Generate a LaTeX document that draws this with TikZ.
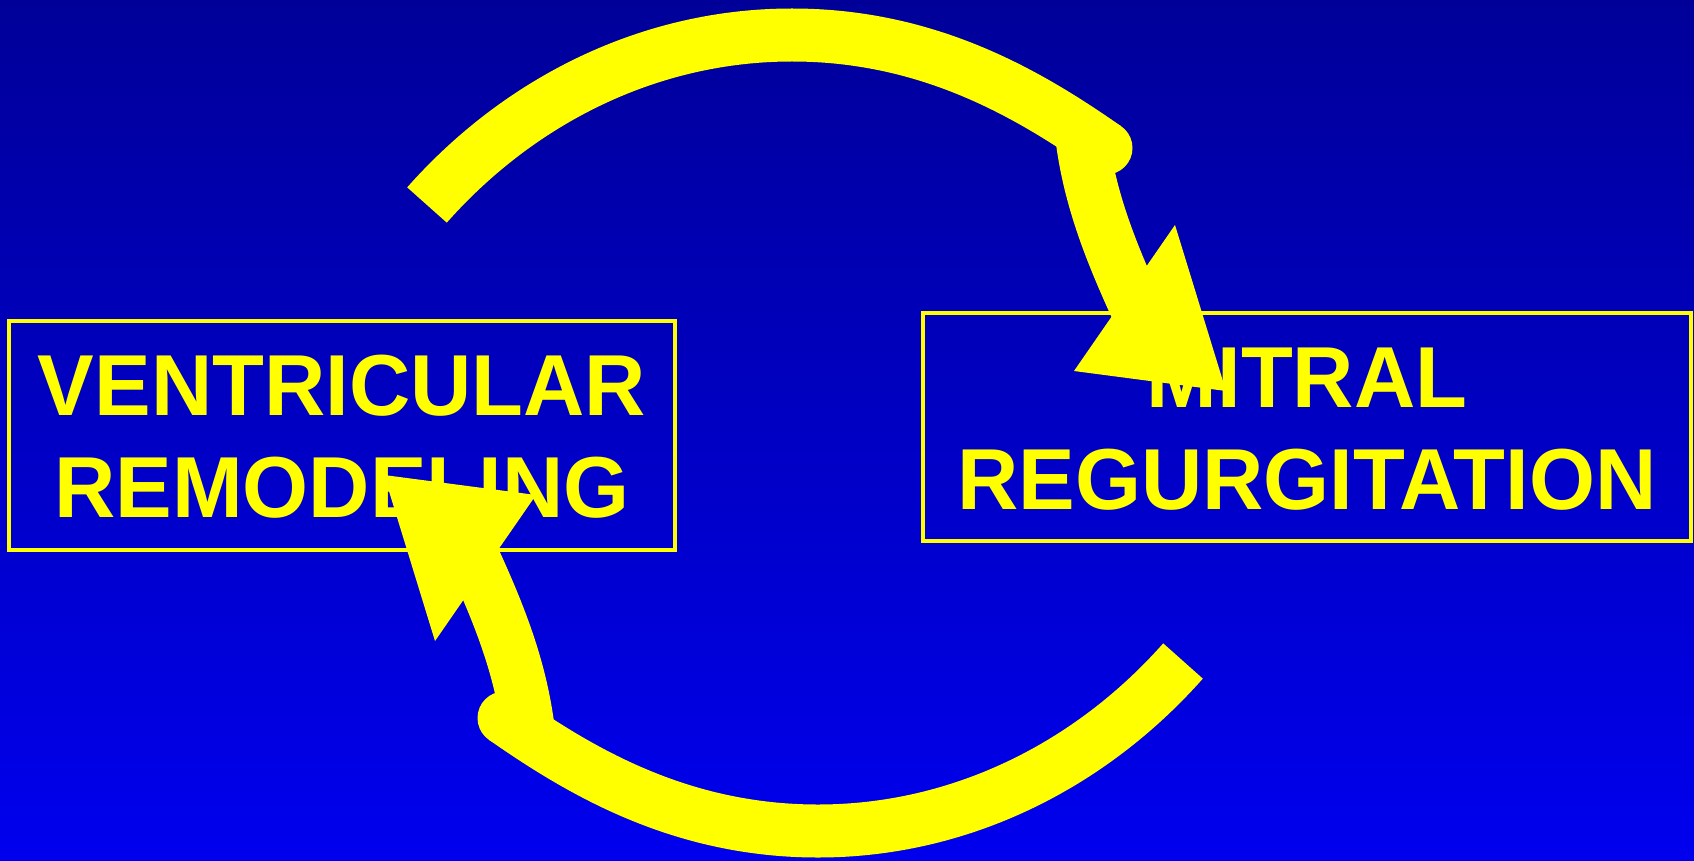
\documentclass[tikz,border=0pt]{standalone}
\usepackage{fontspec}
\setmainfont[FakeStretch=0.98]{Liberation Sans}
\definecolor{bgtop}{RGB}{0,0,153}
\definecolor{bgbot}{RGB}{0,0,238}
\definecolor{yel}{RGB}{255,255,0}
\begin{document}
\begin{tikzpicture}[x=1pt,y=-1pt,
  bigtext/.style={text=yel,font=\fontsize{86.6}{100}\selectfont\bfseries,inner sep=0pt,anchor=base},
  framebox/.style={draw=yel,line width=4pt,inner sep=0pt},
  band/.style={draw=yel,line width=53pt,line cap=butt,line join=round}]
\useasboundingbox (0,0) rectangle (1694,861);
\shade[top color=bgtop,bottom color=bgbot] (0,0) rectangle (1694,861);
% boxes
\node[framebox,minimum width=666pt,minimum height=229pt] (vbox) at (342,435.5) {};
\node[framebox,minimum width=768pt,minimum height=228pt] (mbox) at (1307,427) {};
% texts
\node[bigtext] (v1) at (342,415) {VENTRICULAR};
\node[bigtext] (v2) at (342,517) {REMODELING};
\node[bigtext] (m1) at (1307,407) {MITRAL};
\node[bigtext] (m2) at (1307,509) {REGURGITATION};
% cycle arrows (second is the first turned half a turn)
\foreach \ang in {0,180}{
\begin{scope}[rotate around={\ang:(805,433)}]
  \draw[band] (427,205) .. controls (520,100) and (650,35) .. (792,35)
              .. controls (930,35) and (1030,95) .. (1106,148);
  \fill[yel] (1106,148) circle (26.5pt);
  \draw[band] (1081,130) .. controls (1088,195) and (1110,250) .. (1137,309);
  \fill[yel] (1175,225) -- (1074,371) -- (1226,391) -- cycle;
\end{scope}
}
\end{tikzpicture}
\end{document}
